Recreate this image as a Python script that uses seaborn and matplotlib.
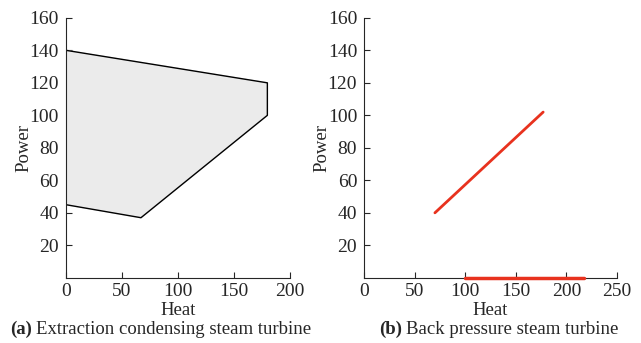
import numpy as np
import pandas as pd
import matplotlib
matplotlib.use("Agg")
import matplotlib.pyplot as plt
import seaborn as sns

# (a) extraction condensing turbine - feasible region corners
heat_a = [0, 180, 180, 67, 0]
power_a = [140, 120, 100, 37, 45]

# (b) back pressure turbine
heat_b = [70, 177]
power_b = [40, 102]
heat_b0 = [100, 217]
power_b0 = [0, 0]

yticks = [20, 40, 60, 80, 100, 120, 140, 160]

sns.set_style("ticks")
plt.rcParams['font.family'] = ['Liberation Serif', 'DejaVu Serif']
plt.rcParams['font.size'] = 14
plt.rcParams['xtick.direction'] = 'in'
plt.rcParams['ytick.direction'] = 'in'

fig = plt.figure(figsize=(6.41, 3.43), dpi=100)
ax1 = fig.add_axes([0.103, 0.19, 0.349, 0.758])
ax2 = fig.add_axes([0.568, 0.19, 0.3946, 0.758])

# panel a
ax1.fill(heat_a, power_a, color="#ebebeb", zorder=1)
df_a = pd.DataFrame({"heat": heat_a, "power": power_a})
sns.lineplot(data=df_a, x="heat", y="power", sort=False, color="black", lw=1, ax=ax1, estimator=None, zorder=2)
ax1.set_xlim(0, 200)
ax1.set_xticks([0, 50, 100, 150, 200])

# panel b
sns.lineplot(x=heat_b, y=power_b, color="#e8321e", lw=2, ax=ax2, estimator=None)
sns.lineplot(x=heat_b0, y=power_b0, color="#e8321e", lw=2.5, ax=ax2, estimator=None, clip_on=False, zorder=5)
ax2.set_xlim(0, 250)
ax2.set_xticks([0, 50, 100, 150, 200, 250])

for ax in (ax1, ax2):
    ax.set_ylim(0, 160)
    ax.set_yticks(yticks)
    ax.set_xlabel("Heat", fontsize=13.5, labelpad=1)
    ax.set_ylabel("Power", fontsize=13.5, labelpad=-2)
    ax.tick_params(length=4, width=0.8, labelsize=14)
    ax.tick_params(axis="y", pad=5)
    ax.tick_params(axis="x", pad=4)
    for s in ("top", "right"):
        ax.spines[s].set_visible(False)
    for s in ("left", "bottom"):
        ax.spines[s].set_linewidth(0.8)

def caption(xc, tag, rest):
    t = fig.text(0, 0.025, tag, fontweight="bold", fontsize=13.5, va="baseline")
    r = fig.text(0, 0.025, rest, fontsize=13.5, va="baseline")
    fig.canvas.draw()
    rend = fig.canvas.get_renderer()
    w1 = t.get_window_extent(rend).width
    w2 = r.get_window_extent(rend).width
    sp = 4
    total = w1 + sp + w2
    x0 = xc * fig.bbox.width - total / 2
    t.set_x(x0 / fig.bbox.width)
    r.set_x((x0 + w1 + sp) / fig.bbox.width)

caption(0.25, "(a)", "Extraction condensing steam turbine")
caption(0.778, "(b)", "Back pressure steam turbine")

fig.savefig("out.png", dpi=100)
